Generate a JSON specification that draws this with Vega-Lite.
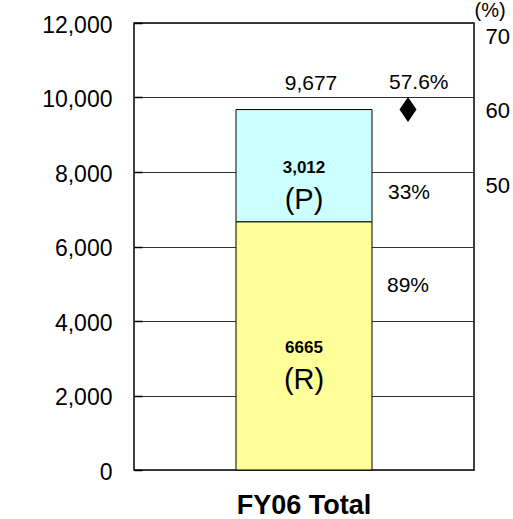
{
  "$schema": "https://vega.github.io/schema/vega-lite/v6.json",
  "width": 340,
  "height": 447,
  "autosize": {"type": "none"},
  "padding": {"left": 134, "top": 23, "right": 39, "bottom": 49},
  "background": "white",
  "config": {
    "font": "Liberation Sans",
    "view": {"stroke": "black", "strokeWidth": 1.5},
    "axis": {"labelColor": "black", "titleColor": "black"}
  },
  "datasets": {
    "segments": [
      {"category": "FY06 Total", "segment": "R", "name": "(R)", "value": 6665, "label": "6665", "share": "89%"},
      {"category": "FY06 Total", "segment": "P", "name": "(P)", "value": 3012, "label": "3,012", "share": "33%"}
    ],
    "total": [
      {"category": "FY06 Total", "total": 9677, "totalLabel": "9,677", "rate": 57.6, "rateLabel": "57.6%"}
    ],
    "pctTicks": [{"pct": 50}, {"pct": 60}, {"pct": 70}]
  },
  "layer": [
    {
      "layer": [
        {
          "data": {"name": "segments"},
          "mark": {"type": "bar", "width": {"band": 0.4}, "stroke": "black", "strokeWidth": 1},
          "encoding": {
            "x": {
              "field": "category", "type": "nominal", "title": null,
              "scale": {"paddingInner": 0, "paddingOuter": 0},
              "axis": {"labelFontSize": 27, "labelFontWeight": "bold", "ticks": false, "domain": false, "labelPadding": 22, "labelAngle": 0, "labelColor": "black"}
            },
            "y": {
              "field": "value", "type": "quantitative", "stack": "zero", "title": null,
              "scale": {"domain": [0, 12000], "nice": false},
              "axis": {
                "values": [0, 2000, 4000, 6000, 8000, 10000, 12000],
                "format": ",d", "labelFontSize": 23, "labelPadding": 30, "labelOffset": 2,
                "tickSize": -8, "tickColor": "black", "tickWidth": 1.5,
                "domain": false, "grid": true, "gridColor": "#333", "gridWidth": 1,
                "labelColor": "black"
              }
            },
            "color": {
              "field": "segment", "type": "nominal", "legend": null,
              "scale": {"domain": ["R", "P"], "range": ["#FFFF99", "#CCFFFF"]}
            },
            "order": {"field": "segment", "sort": "descending"}
          }
        },
        {
          "data": {"name": "segments"},
          "transform": [
            {"stack": "value", "groupby": ["category"], "sort": [{"field": "segment", "order": "descending"}], "as": ["v0", "v1"]},
            {"fold": ["v0", "v1"], "as": ["edge", "pos"]},
            {"aggregate": [{"op": "mean", "field": "pos", "as": "mid"}], "groupby": ["category", "segment", "name", "label", "share"]}
          ],
          "encoding": {
            "x": {"field": "category", "type": "nominal", "title": null},
            "y": {"field": "mid", "type": "quantitative", "title": null, "scale": {"domain": [0, 12000], "nice": false}}
          },
          "layer": [
            {
              "mark": {"type": "text", "fontSize": 17, "fontWeight": "bold", "dy": 2, "color": "black"},
              "encoding": {"text": {"field": "label"}}
            },
            {
              "mark": {"type": "text", "fontSize": 29, "dy": 34, "color": "black"},
              "encoding": {"text": {"field": "name"}}
            },
            {
              "transform": [{"filter": "datum.segment === 'P'"}],
              "mark": {"type": "text", "fontSize": 21, "align": "left", "dx": 84, "dy": 27, "color": "black"},
              "encoding": {"text": {"field": "share"}}
            },
            {
              "transform": [{"filter": "datum.segment === 'R'"}],
              "mark": {"type": "text", "fontSize": 21, "align": "left", "dx": 83, "dy": -60, "color": "black"},
              "encoding": {"text": {"field": "share"}}
            }
          ]
        },
        {
          "data": {"name": "total"},
          "encoding": {
            "x": {"field": "category", "type": "nominal", "title": null},
            "y": {"field": "total", "type": "quantitative", "title": null, "scale": {"domain": [0, 12000], "nice": false}}
          },
          "layer": [
            {
              "mark": {"type": "text", "fontSize": 21, "dx": 7, "dy": -26, "color": "black"},
              "encoding": {"text": {"field": "totalLabel"}}
            },
            {
              "mark": {"type": "text", "fontSize": 21, "align": "left", "dx": 85, "dy": -27, "color": "black"},
              "encoding": {"text": {"field": "rateLabel"}}
            },
            {
              "mark": {"type": "point", "shape": "M0,-1.47L1,0L0,1.47L-1,0Z", "size": 289, "filled": true, "color": "black", "opacity": 1, "xOffset": 104},
              "encoding": {}
            }
          ]
        }
      ]
    },
    {
      "data": {"name": "pctTicks"},
      "mark": {"type": "rule", "strokeOpacity": 0},
      "encoding": {
        "y": {
          "field": "pct", "type": "quantitative",
          "scale": {"domain": [11.8, 71.8], "nice": false, "zero": false},
          "axis": {
            "orient": "right", "values": [50, 60, 70], "title": "(%)",
            "titleAngle": 0, "titleAlign": "left", "titleBaseline": "alphabetic",
            "titleX": 0, "titleY": -7, "titleFontSize": 20, "titleFontWeight": "normal",
            "labelFontSize": 22, "labelPadding": 11, "ticks": false, "domain": false, "grid": false,
            "labelColor": "black"
          }
        }
      }
    }
  ],
  "resolve": {"scale": {"y": "independent"}}
}
